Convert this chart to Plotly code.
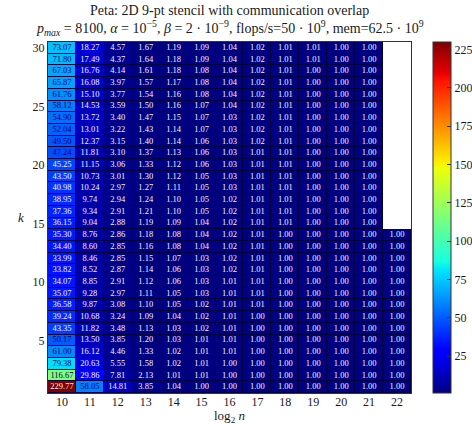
import numpy as np
import plotly.graph_objects as go

# log2(n) columns and k rows
log2n = [10, 11, 12, 13, 14, 15, 16, 17, 18, 19, 20, 21, 22]
k_vals = list(range(1, 31))

# speedup values per log2(n), listed for k = 1 .. 30
s10 = [229.77, 116.67, 79.38, 61.00, 50.17, 43.35, 39.24, 36.58, 35.07, 34.07,
       33.82, 33.99, 34.40, 35.30, 36.15, 37.36, 38.95, 40.98, 43.50, 45.25,
       47.24, 49.50, 52.04, 54.90, 58.12, 61.76, 65.87, 67.03, 71.80, 73.07]
s11 = [58.05, 29.86, 20.63, 16.12, 13.50, 11.82, 10.68, 9.87, 9.28, 8.85,
       8.52, 8.46, 8.60, 8.76, 9.04, 9.34, 9.74, 10.24, 10.73, 11.15,
       11.81, 12.37, 13.01, 13.72, 14.53, 15.10, 16.08, 16.76, 17.49, 18.27]
s12 = [14.81, 7.81, 5.55, 4.46, 3.85, 3.48, 3.24, 3.08, 2.97, 2.91,
       2.87, 2.85, 2.85, 2.86, 2.88, 2.91, 2.94, 2.97, 3.01, 3.06,
       3.10, 3.15, 3.22, 3.40, 3.59, 3.77, 3.97, 4.14, 4.37, 4.57]
s13 = [3.85, 2.13, 1.58, 1.33, 1.20, 1.13, 1.09, 1.10, 1.11, 1.12,
       1.14, 1.15, 1.16, 1.18, 1.19, 1.21, 1.24, 1.27, 1.30, 1.33,
       1.37, 1.40, 1.43, 1.47, 1.50, 1.54, 1.57, 1.61, 1.64, 1.67]
s14 = [1.04, 1.01, 1.02, 1.02, 1.03, 1.03, 1.04, 1.05, 1.05, 1.06,
       1.06, 1.07, 1.08, 1.08, 1.09, 1.10, 1.10, 1.11, 1.12, 1.12,
       1.13, 1.14, 1.14, 1.15, 1.16, 1.16, 1.17, 1.18, 1.18, 1.19]
s15 = [1.00, 1.01, 1.01, 1.01, 1.01, 1.02, 1.02, 1.02, 1.03, 1.03,
       1.03, 1.03, 1.04, 1.04, 1.04, 1.05, 1.05, 1.05, 1.05, 1.06,
       1.06, 1.06, 1.07, 1.07, 1.07, 1.08, 1.08, 1.08, 1.09, 1.09]
s16 = [1.00, 1.00, 1.00, 1.01, 1.01, 1.01, 1.01, 1.01, 1.01, 1.01,
       1.02, 1.02, 1.02, 1.02, 1.02, 1.02, 1.02, 1.03, 1.03, 1.03,
       1.03, 1.03, 1.03, 1.03, 1.04, 1.04, 1.04, 1.04, 1.04, 1.04]
s17 = [1.00, 1.00, 1.00, 1.00, 1.00, 1.00, 1.00, 1.01, 1.01, 1.01,
       1.01, 1.01, 1.01, 1.01, 1.01, 1.01, 1.01, 1.01, 1.01, 1.01,
       1.01, 1.02, 1.02, 1.02, 1.02, 1.02, 1.02, 1.02, 1.02, 1.02]
s18 = [1.00, 1.00, 1.00, 1.00, 1.00, 1.00, 1.00, 1.00, 1.00, 1.00,
       1.00, 1.00, 1.00, 1.00, 1.01, 1.01, 1.01, 1.01, 1.01, 1.01,
       1.01, 1.01, 1.01, 1.01, 1.01, 1.01, 1.01, 1.01, 1.01, 1.01]
s19 = [1.00, 1.00, 1.00, 1.00, 1.00, 1.00, 1.00, 1.00, 1.00, 1.00,
       1.00, 1.00, 1.00, 1.00, 1.00, 1.00, 1.00, 1.00, 1.00, 1.00,
       1.00, 1.00, 1.00, 1.00, 1.00, 1.00, 1.00, 1.00, 1.01, 1.01]
s20 = [1.00, 1.00, 1.00, 1.00, 1.00, 1.00, 1.00, 1.00, 1.00, 1.00,
       1.00, 1.00, 1.00, 1.00, 1.00, 1.00, 1.00, 1.00, 1.00, 1.00,
       1.00, 1.00, 1.00, 1.00, 1.00, 1.00, 1.00, 1.00, 1.00, 1.00]
s21 = [1.00, 1.00, 1.00, 1.00, 1.00, 1.00, 1.00, 1.00, 1.00, 1.00,
       1.00, 1.00, 1.00, 1.00, 1.00, 1.00, 1.00, 1.00, 1.00, 1.00,
       1.00, 1.00, 1.00, 1.00, 1.00, 1.00, 1.00, 1.00, 1.00, 1.00]
s22 = [1.00, 1.00, 1.00, 1.00, 1.00, 1.00, 1.00, 1.00, 1.00, 1.00,
       1.00, 1.00, 1.00, 1.00, None, None, None, None, None, None,
       None, None, None, None, None, None, None, None, None, None]

cbar_ticks = [25, 50, 75, 100, 125, 150, 175, 200, 225]
k_ticks = [5, 10, 15, 20, 25, 30]

title_line1 = "Peta: 2D 9-pt stencil with communication overlap"
title_line2 = ("<i>p<sub>max</sub></i> = 8100, <i>α</i> = 10<sup>−5</sup>, "
               "<i>β</i> = 2 · 10<sup>−9</sup>, flops/s=50 · 10<sup>9</sup>, "
               "mem=62.5 · 10<sup>9</sup>")
x_label = "log<sub>2</sub> <i>n</i>"
y_label = "<i>k</i>"

columns = [s10, s11, s12, s13, s14, s15, s16, s17, s18, s19, s20, s21, s22]
Z = np.array([[np.nan if v is None else v for v in col] for col in columns]).T  # rows = k

zmin = np.nanmin(Z)
zmax = np.nanmax(Z)

# matplotlib-style "jet" colormap
jet_r = [(0, 0), (0.35, 0), (0.66, 1), (0.89, 1), (1, 0.5)]
jet_g = [(0, 0), (0.125, 0), (0.375, 1), (0.64, 1), (0.91, 0), (1, 0)]
jet_b = [(0, 0.5), (0.11, 1), (0.34, 1), (0.65, 0), (1, 0)]


def chan(seg, t):
    xs, ys = zip(*seg)
    return float(np.interp(t, xs, ys))


def jet_rgb(t):
    return tuple(int(round(255 * chan(s, t))) for s in (jet_r, jet_g, jet_b))


stops = sorted(set([p for s in (jet_r, jet_g, jet_b) for p, _ in s]))
jet_scale = [[t, "rgb(%d,%d,%d)" % jet_rgb(t)] for t in stops]

# cell labels: dark text on light cells, white on dark cells
tx, ty, tt, tc = [], [], [], []
for i, k in enumerate(k_vals):
    for j, n in enumerate(log2n):
        v = Z[i, j]
        if np.isnan(v):
            continue
        r, g, b = jet_rgb((v - zmin) / (zmax - zmin))
        lum = 0.299 * r + 0.587 * g + 0.114 * b
        tx.append(n)
        ty.append(k)
        tt.append("%.2f" % v)
        tc.append("#00005a" if lum > 74 else "#f4f4f4")

# backing layer: dark cell borders where data exists, white where it does not
border = np.where(np.isnan(Z), np.nan, 0.0)

serif = "Liberation Serif"
ink = "#1a1a1a"

fig = go.Figure()
fig.add_trace(go.Heatmap(
    x=log2n, y=k_vals, z=border,
    colorscale=[[0, "#00003c"], [1, "#00003c"]],
    showscale=False, hoverinfo="skip",
))
fig.add_trace(go.Heatmap(
    x=log2n, y=k_vals, z=Z,
    zmin=zmin, zmax=zmax,
    colorscale=jet_scale,
    xgap=1, ygap=1,
    colorbar=dict(
        x=1.0606, xanchor="left", y=0.5, yanchor="middle",
        len=1.0, lenmode="fraction", thickness=18, xpad=0, ypad=0,
        tickvals=cbar_ticks, ticks="inside", ticklen=4, tickcolor="#333",
        outlinecolor="#333", outlinewidth=1,
        tickfont=dict(family=serif, size=12, color=ink),
    ),
))
fig.add_trace(go.Scatter(
    x=tx, y=ty, text=tt, mode="text",
    textfont=dict(family=serif, size=8.5, color=tc),
    textposition="middle center", hoverinfo="skip", showlegend=False,
))

axis_font = dict(family=serif, size=12, color=ink)
label_font = dict(family=serif, size=13, color=ink)
fig.update_layout(
    width=472, height=424,
    margin=dict(l=48, r=61, t=42, b=31, autoexpand=False),
    paper_bgcolor="white", plot_bgcolor="white",
    showlegend=False,
    xaxis=dict(
        tickvals=log2n, range=[9.5, 22.5], showgrid=False, zeroline=False,
        showline=True, mirror=True, linecolor="#333", linewidth=1,
        ticks="", tickfont=axis_font, ticklabelstandoff=-2,
    ),
    yaxis=dict(
        tickvals=k_ticks, range=[0.5, 30.5], showgrid=False,
        zeroline=False, showline=True, mirror=True, linecolor="#333", linewidth=1,
        ticks="", tickfont=axis_font,
    ),
    annotations=[
        dict(text=title_line1, xref="paper", yref="paper", x=0.5, y=1.091,
             xanchor="center", yanchor="middle", showarrow=False,
             font=dict(family=serif, size=14, color=ink)),
        dict(text=title_line2, xref="paper", yref="paper", x=0.5, y=1.040,
             xanchor="center", yanchor="middle", showarrow=False,
             font=dict(family=serif, size=14, color=ink)),
        dict(text=x_label, xref="paper", yref="paper", x=0.5, y=-0.068,
             xanchor="center", yanchor="middle", showarrow=False, font=label_font),
        dict(text=y_label, xref="paper", yref="paper", x=-0.075, y=0.5,
             xanchor="center", yanchor="middle", showarrow=False, font=label_font),
    ],
)

fig.write_html("out.html")
